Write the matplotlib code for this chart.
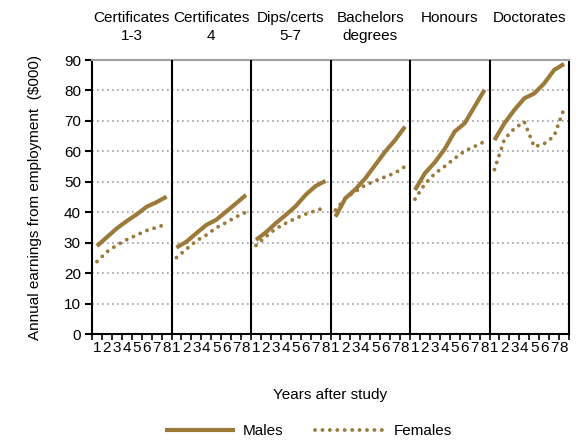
import numpy as np
import matplotlib
matplotlib.use('Agg')
import matplotlib.pyplot as plt
from matplotlib.lines import Line2D

plt.rcParams['font.family'] = ['Liberation Sans', 'DejaVu Sans']

# panel titles and x labels
panels = ['Certificates\n1-3', 'Certificates\n4', 'Dips/certs\n5-7',
          'Bachelors\ndegrees', 'Honours', 'Doctorates']
years = ['1', '2', '3', '4', '5', '6', '7', '8']

# annual earnings ($000) per year after study
males_cert13 = [28.9, 31.8, 34.7, 37.1, 39.3, 41.8, 43.3, 45.1]
males_cert4 = [28.4, 30.3, 33.1, 35.8, 37.5, 40.2, 42.9, 45.7]
males_dips = [30.9, 33.4, 36.4, 39.1, 42.0, 45.7, 48.6, 50.3]
males_bach = [38.5, 44.6, 47.5, 51.1, 55.5, 59.9, 63.7, 68.1]
males_hons = [47.3, 52.8, 56.4, 60.8, 66.5, 69.2, 74.7, 80.2]
males_doc = [63.7, 69.2, 73.6, 77.4, 79.0, 82.3, 86.7, 88.7]

females_cert13 = [23.8, 27.0, 29.2, 31.0, 32.5, 34.0, 35.0, 36.1]
females_cert4 = [25.1, 27.9, 30.6, 32.5, 34.9, 36.6, 38.5, 40.0]
females_dips = [29.1, 32.0, 34.6, 36.4, 38.0, 39.4, 40.5, 41.6]
females_bach = [40.7, 44.6, 46.8, 48.9, 50.3, 51.6, 52.9, 55.0]
females_hons = [44.3, 49.3, 52.7, 55.1, 57.7, 60.1, 61.6, 63.2]
females_doc = [54.0, 64.0, 67.5, 69.7, 61.5, 62.5, 65.0, 74.0]

males = [males_cert13, males_cert4, males_dips, males_bach, males_hons, males_doc]
females = [females_cert13, females_cert4, females_dips, females_bach, females_hons, females_doc]

col = '#9B7A3A'
n = len(years)
fs = 11

fig = plt.figure(figsize=(5.86, 4.41), dpi=100)
ax = fig.add_axes([92/586, 1-334/441, 477/586, 274/441])

for p in range(len(panels)):
    x = p*n + np.arange(n) + 0.5
    ax.plot(x, males[p], color=col, lw=3, solid_capstyle='butt', solid_joinstyle='round', zorder=3)
    ax.plot(x, females[p], color=col, lw=2.8, linestyle=(0, (0.01, 1.9)),
            dash_capstyle='round', zorder=3)
    ax.text(p*n + n/2, 1.18, panels[p], transform=ax.get_xaxis_transform(),
            ha='center', va='top', fontsize=fs, linespacing=1.35)
    if p > 0:
        ax.axvline(p*n, color='black', lw=1.5, zorder=4)

ax.set_xlim(0, n*len(panels))
ax.set_ylim(0, 90)
ax.set_yticks(np.arange(0, 91, 10))
ax.yaxis.grid(True, color='#A0A0A0', linestyle=(0, (1, 2)), lw=1.2)
ax.set_axisbelow(True)

ax.set_xticks(np.arange(0, n*len(panels)+1))
ax.set_xticklabels([])
ax.set_xticks(np.arange(n*len(panels)) + 0.5, minor=True)
ax.set_xticklabels(years*len(panels), minor=True)
ax.tick_params(axis='x', which='major', length=4, width=1.2, direction='out')
ax.tick_params(axis='x', which='minor', length=0, pad=5, labelsize=fs)
ax.tick_params(axis='y', length=5, width=1.5, direction='out', labelsize=fs, pad=3)

for s in ['left', 'bottom', 'right']:
    ax.spines[s].set_linewidth(1.5)
    ax.spines[s].set_color('black')
ax.spines['top'].set_color('#A0A0A0')
ax.spines['top'].set_linewidth(1.5)

ax.set_ylabel('Annual earnings from employment  ($000)', fontsize=fs, labelpad=16)
ax.set_xlabel('Years after study', fontsize=fs, labelpad=24)

handles = [Line2D([], [], color=col, lw=3, solid_capstyle='butt'),
           Line2D([], [], color=col, lw=2.8, linestyle=(0, (0.01, 1.9)), dash_capstyle='round')]
fig.legend(handles, ['Males', 'Females'], loc='center', bbox_to_anchor=(0.526, 0.023),
           ncol=2, frameon=False, handlelength=4.6, columnspacing=2.1, fontsize=fs,
           handletextpad=0.5)

plt.savefig('out.png', dpi=100)
